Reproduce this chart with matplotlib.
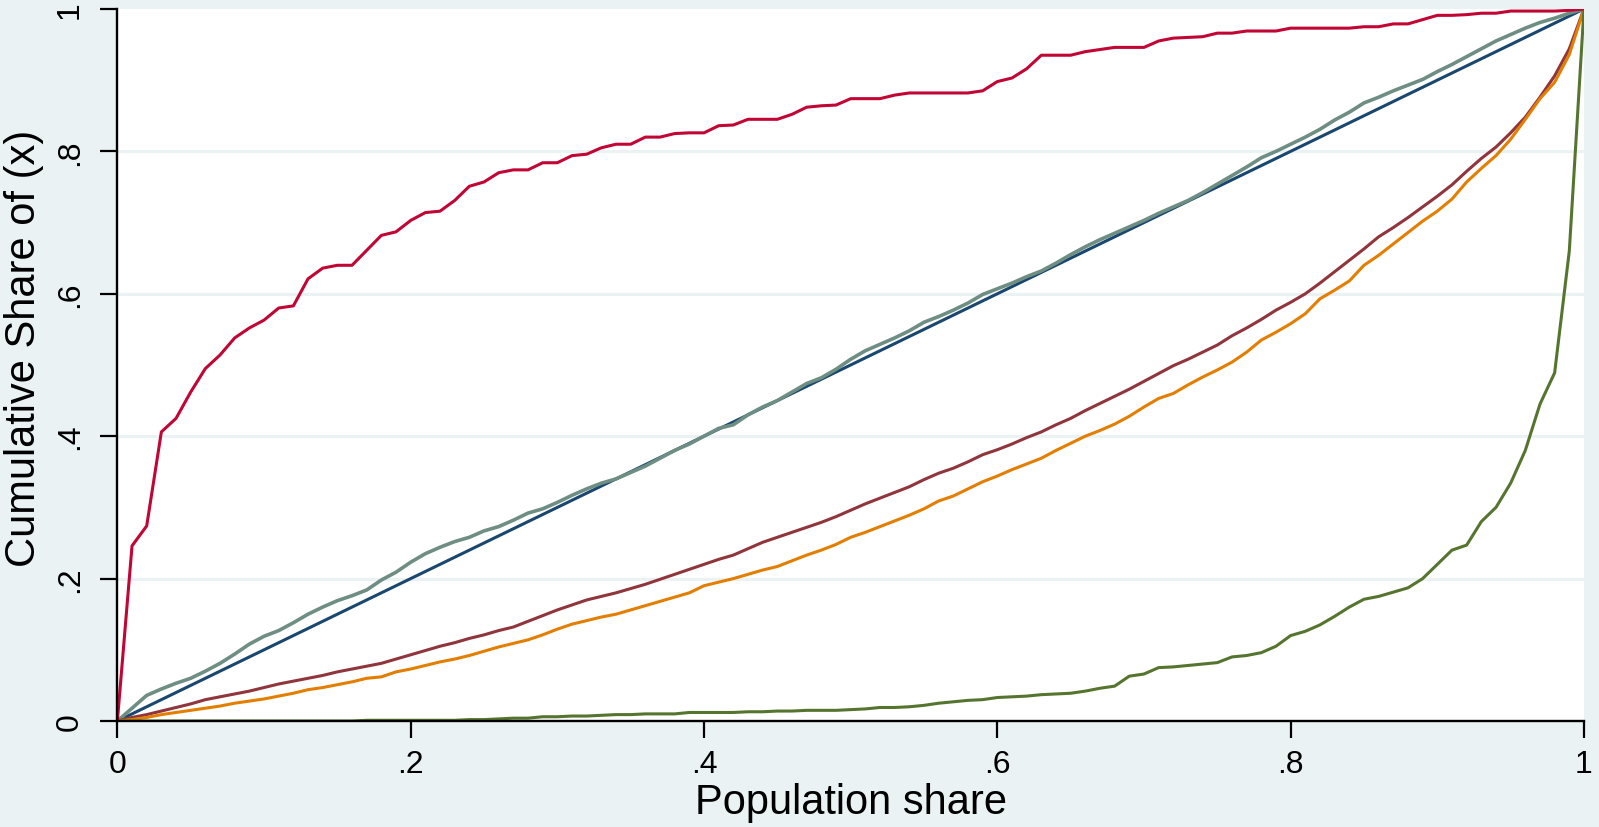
import matplotlib
matplotlib.use("Agg")
import matplotlib.pyplot as plt
import numpy as np

plt.rcParams['font.family'] = ['Liberation Sans', 'DejaVu Sans']

# population share grid (percentiles)
pop_share = [i / 100 for i in range(101)]

red = [0, 0.246, 0.274, 0.406, 0.425, 0.462, 0.495, 0.514, 0.538, 0.552,
       0.563, 0.580, 0.583, 0.621, 0.636, 0.640, 0.640, 0.661, 0.682, 0.687,
       0.703, 0.714, 0.716, 0.731, 0.751, 0.757, 0.770, 0.774, 0.774, 0.784,
       0.784, 0.794, 0.796, 0.805, 0.810, 0.810, 0.820, 0.820, 0.825, 0.826,
       0.826, 0.836, 0.837, 0.845, 0.845, 0.845, 0.852, 0.862, 0.864, 0.865,
       0.874, 0.874, 0.874, 0.879, 0.882, 0.882, 0.882, 0.882, 0.882, 0.885,
       0.898, 0.903, 0.916, 0.935, 0.935, 0.935, 0.940, 0.943, 0.946, 0.946,
       0.946, 0.955, 0.959, 0.960, 0.961, 0.966, 0.966, 0.969, 0.969, 0.969,
       0.973, 0.973, 0.973, 0.973, 0.973, 0.975, 0.975, 0.979, 0.979, 0.985,
       0.991, 0.991, 0.992, 0.994, 0.994, 0.997, 0.997, 0.997, 0.997, 0.998,
       1.0]

teal = [0, 0.018, 0.036, 0.045, 0.053, 0.060, 0.070, 0.081, 0.094, 0.108,
        0.119, 0.127, 0.138, 0.150, 0.160, 0.169, 0.176, 0.184, 0.198, 0.209,
        0.223, 0.235, 0.244, 0.252, 0.258, 0.267, 0.273, 0.282, 0.292, 0.298,
        0.307, 0.317, 0.326, 0.334, 0.340, 0.349, 0.358, 0.369, 0.380, 0.389,
        0.400, 0.411, 0.416, 0.430, 0.441, 0.450, 0.462, 0.474, 0.482, 0.494,
        0.508, 0.520, 0.529, 0.538, 0.548, 0.560, 0.568, 0.577, 0.587, 0.599,
        0.607, 0.615, 0.624, 0.632, 0.643, 0.655, 0.666, 0.676, 0.685, 0.694,
        0.703, 0.713, 0.722, 0.731, 0.742, 0.754, 0.766, 0.778, 0.791, 0.800,
        0.810, 0.820, 0.831, 0.844, 0.855, 0.868, 0.876, 0.885, 0.893, 0.901,
        0.912, 0.922, 0.933, 0.944, 0.955, 0.964, 0.973, 0.981, 0.987, 0.994,
        1.0]

maroon = [0, 0.005, 0.009, 0.014, 0.019, 0.024, 0.030, 0.034, 0.038, 0.042,
          0.047, 0.052, 0.056, 0.060, 0.064, 0.069, 0.073, 0.077, 0.081, 0.087,
          0.093, 0.099, 0.105, 0.110, 0.116, 0.121, 0.127, 0.132, 0.140, 0.148,
          0.156, 0.163, 0.170, 0.175, 0.180, 0.186, 0.192, 0.199, 0.206, 0.213,
          0.220, 0.227, 0.233, 0.242, 0.251, 0.258, 0.265, 0.272, 0.279, 0.287,
          0.296, 0.305, 0.313, 0.321, 0.329, 0.339, 0.348, 0.355, 0.364, 0.374,
          0.381, 0.389, 0.398, 0.406, 0.416, 0.425, 0.436, 0.446, 0.456, 0.466,
          0.477, 0.488, 0.499, 0.508, 0.518, 0.528, 0.541, 0.552, 0.564, 0.577,
          0.588, 0.600, 0.615, 0.631, 0.647, 0.663, 0.680, 0.693, 0.707, 0.722,
          0.737, 0.753, 0.772, 0.790, 0.806, 0.826, 0.848, 0.876, 0.906, 0.944,
          1.0]

orange = [0, 0.002, 0.005, 0.009, 0.012, 0.015, 0.018, 0.021, 0.025, 0.028,
          0.031, 0.035, 0.039, 0.044, 0.047, 0.051, 0.055, 0.060, 0.062, 0.069,
          0.073, 0.078, 0.083, 0.087, 0.092, 0.098, 0.104, 0.109, 0.114, 0.121,
          0.129, 0.136, 0.141, 0.146, 0.150, 0.156, 0.162, 0.168, 0.174, 0.180,
          0.190, 0.195, 0.200, 0.206, 0.212, 0.217, 0.225, 0.233, 0.240, 0.248,
          0.258, 0.265, 0.273, 0.281, 0.289, 0.298, 0.309, 0.316, 0.326, 0.336,
          0.344, 0.353, 0.361, 0.369, 0.380, 0.390, 0.400, 0.408, 0.417, 0.428,
          0.441, 0.453, 0.460, 0.472, 0.483, 0.493, 0.504, 0.518, 0.535, 0.546,
          0.558, 0.572, 0.593, 0.605, 0.618, 0.640, 0.654, 0.670, 0.686, 0.702,
          0.716, 0.733, 0.757, 0.776, 0.794, 0.817, 0.845, 0.874, 0.897, 0.936,
          1.0]

green = [0, 0, 0, 0, 0, 0, 0, 0, 0, 0,
         0, 0, 0, 0, 0, 0, 0, 0.001, 0.001, 0.001,
         0.001, 0.001, 0.001, 0.001, 0.002, 0.002, 0.003, 0.004, 0.004, 0.006,
         0.006, 0.007, 0.007, 0.008, 0.009, 0.009, 0.010, 0.010, 0.010, 0.012,
         0.012, 0.012, 0.012, 0.013, 0.013, 0.014, 0.014, 0.015, 0.015, 0.015,
         0.016, 0.017, 0.019, 0.019, 0.020, 0.022, 0.025, 0.027, 0.029, 0.030,
         0.033, 0.034, 0.035, 0.037, 0.038, 0.039, 0.042, 0.046, 0.049, 0.063,
         0.066, 0.075, 0.076, 0.078, 0.080, 0.082, 0.090, 0.092, 0.096, 0.105,
         0.120, 0.126, 0.135, 0.147, 0.160, 0.171, 0.175, 0.181, 0.187, 0.200,
         0.220, 0.240, 0.247, 0.280, 0.300, 0.334, 0.380, 0.445, 0.489, 0.660,
         1.0]

equality_x = [0, 1]
equality_y = [0, 1]

xticks = [0, 0.2, 0.4, 0.6, 0.8, 1.0]
xtick_labels = ["0", ".2", ".4", ".6", ".8", "1"]
yticks = [0, 0.2, 0.4, 0.6, 0.8, 1.0]
ytick_labels = ["0", ".2", ".4", ".6", ".8", "1"]

BG = "#EAF2F3"
fig = plt.figure(figsize=(15.99, 8.28), dpi=100, facecolor=BG)
ax = fig.add_axes([0.0734, 0.1280, 0.9172, 0.8600])
ax.set_facecolor("white")

for y in [0.2, 0.4, 0.6, 0.8]:
    ax.axhline(y, color=BG, lw=2.2, zorder=0.5)

lw = 2.2
ax.plot(equality_x, equality_y, color="#1A476F", lw=lw, zorder=2)
ax.plot(pop_share, teal, color="#6E8E84", lw=lw + 0.4, zorder=3)
ax.plot(pop_share, maroon, color="#90353B", lw=lw, zorder=3)
ax.plot(pop_share, orange, color="#E37E00", lw=lw, zorder=3)
ax.plot(pop_share, green, color="#55752F", lw=lw, zorder=3)
ax.plot(pop_share, red, color="#C10534", lw=lw, zorder=4)

ax.set_xlim(0, 1)
ax.set_ylim(0, 1)

for s in ["top", "right"]:
    ax.spines[s].set_visible(False)
for s in ["left", "bottom"]:
    ax.spines[s].set_linewidth(1.7)
    ax.spines[s].set_color("black")
    ax.spines[s].set_zorder(5)

ax.set_xticks(xticks)
ax.set_xticklabels(xtick_labels)
ax.set_yticks(yticks)
ax.set_yticklabels(ytick_labels, rotation=90, va="center")
ax.tick_params(axis="both", direction="out", length=12.5, width=1.6,
               labelsize=23, colors="black")
ax.tick_params(axis="x", pad=8)
ax.tick_params(axis="y", pad=11)

ax.set_xlabel("Population share", fontsize=30, labelpad=2)
ax.set_ylabel("Cumulative Share of (x)", fontsize=30, va="center")
ax.yaxis.set_label_coords(-0.0635, 0.525)

fig.savefig("out.png", dpi=100, facecolor=BG)
